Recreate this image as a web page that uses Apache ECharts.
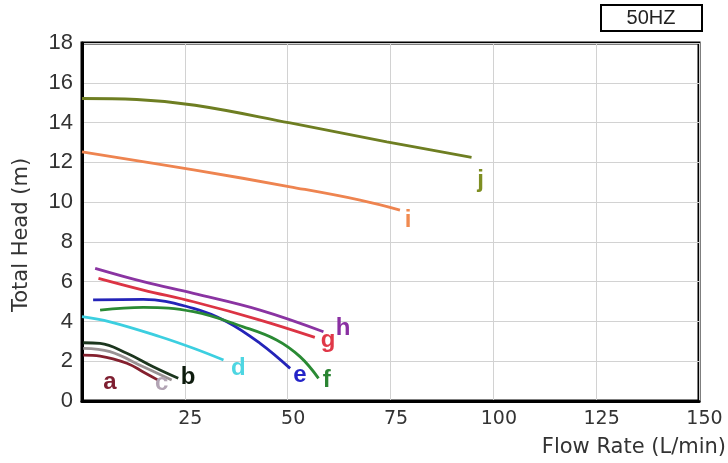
<!DOCTYPE html>
<html>
<head>
<meta charset="utf-8">
<script src="https://cdn.jsdelivr.net/npm/echarts@6/dist/echarts.min.js"></script>
<style>
html,body{margin:0;padding:0;background:#fff;}
#chart{width:728px;height:463px;}
</style>
</head>
<body>
<div id="chart"></div>
<script>
// ---- data ----
const curveNames = ['a','b','c','d','e','f','g','h','i','j'];
const flowA = [0.3, 4.4, 10.9, 15, 18.5];
const headA = [2.31, 2.26, 1.9, 1.45, 1.05];
const flowB = [0.3, 4.4, 10.9, 17.3, 23.4];
const headB = [2.93, 2.9, 2.4, 1.72, 1.14];
const flowC = [0.3, 6.8, 14.9, 21.8];
const headC = [2.65, 2.48, 1.72, 1.06];
const flowD = [0, 6.8, 19, 27.1, 34.4];
const headD = [4.24, 3.98, 3.23, 2.65, 2.06];
const flowE = [2.7, 14.9, 27.1, 35.2, 43.3, 50.6];
const headE = [5.08, 5.11, 4.66, 3.99, 2.9, 1.64];
const flowF = [4.4, 14.9, 27.1, 39.2, 47.3, 53, 57.5];
const headF = [4.57, 4.71, 4.49, 3.73, 3.07, 2.23, 1.14];
const flowG = [4.0, 14.9, 27.1, 43.3, 56.6];
const headG = [6.17, 5.58, 4.99, 4.07, 3.2];
const flowH = [3.2, 14.9, 27.1, 43.3, 58.7];
const headH = [6.67, 6.0, 5.41, 4.57, 3.48];
const flowI = [0, 27.5, 50.6, 67.6, 77.3];
const headI = [12.53, 11.61, 10.77, 10.1, 9.6];
const flowJ = [0, 13.3, 27.5, 50.6, 74.1, 94.7];
const headJ = [15.21, 15.16, 14.87, 13.98, 13.03, 12.25];
// label anchor points (flow, head)
const labelFlow = [6.8, 25.8, 19.4, 38, 53, 59.5, 59.8, 63.5, 79.3, 96.9];
const labelHead = [0.95, 1.2, 0.9, 1.65, 1.3, 1.05, 3.07, 3.67, 9.1, 11.1];
const xTicks = [0, 25, 50, 75, 100, 125, 150];
const yTicks = [0, 2, 4, 6, 8, 10, 12, 14, 16, 18];
const xTitle = 'Flow Rate (L/min)';
const yTitle = 'Total Head (m)';
const freqTag = '50HZ';

const lineColors = ['#84202e','#1c361e','#9a9294','#3ccfe0','#2424b8','#2a8a34','#dc3444','#8a34a2','#ee8450','#6e7e22'];
const labelColors = ['#7e1e30','#0e1c0e','#b2a4b4','#4ed6e2','#2424c8','#2a8432','#e03848','#8a30a2','#f08a50','#7e8e22'];

const flows = [flowA, flowB, flowC, flowD, flowE, flowF, flowG, flowH, flowI, flowJ];
const heads = [headA, headB, headC, headD, headE, headF, headG, headH, headI, headJ];

const series = [];
curveNames.forEach((n, k) => {
  series.push({
    name: n, type: 'line', smooth: 0.4, symbol: 'none',
    lineStyle: { color: lineColors[k], width: 2.8 },
    data: flows[k].map((f, i) => [f, heads[k][i]]),
    z: 3
  });
  series.push({
    type: 'scatter', symbolSize: 0, silent: true,
    itemStyle: { opacity: 1 },
    data: [[labelFlow[k], labelHead[k]]],
    label: { show: true, position: 'inside', formatter: n, opacity: 1,
      color: labelColors[k], fontSize: 24, fontWeight: 'bold',
      fontFamily: 'Liberation Sans, Arial, sans-serif' },
    z: 4
  });
});

const chart = echarts.init(document.getElementById('chart'), null, { renderer: 'canvas' });
chart.setOption({
  animation: false,
  backgroundColor: '#fff',
  grid: { left: 82, right: 29, top: 43, bottom: 62, show: true, borderColor: '#000', borderWidth: 3, backgroundColor: '#fff' },
  xAxis: {
    type: 'value', min: xTicks[0], max: xTicks[xTicks.length - 1], interval: 25,
    axisLine: { lineStyle: { color: '#000', width: 3 } },
    axisTick: { show: false },
    axisLabel: { showMinLabel: false, color: '#333', fontSize: 19, margin: 9, padding: [0, 0, 0, 11],
      fontFamily: 'DejaVu Sans, sans-serif' },
    splitLine: { lineStyle: { color: '#d2d2d2', width: 1 } }
  },
  yAxis: {
    type: 'value', min: yTicks[0], max: yTicks[yTicks.length - 1], interval: 2,
    axisLine: { lineStyle: { color: '#000', width: 3 } },
    axisTick: { show: false },
    axisLabel: { color: '#333', fontSize: 22, margin: 9, padding: [7, 0, 0, 0], fontFamily: 'Liberation Sans, Arial, sans-serif' },
    splitLine: { lineStyle: { color: '#d2d2d2', width: 1 } }
  },
  graphic: [
    { type: 'text', x: 726, y: 448,
      style: { text: xTitle, fill: '#333', align: 'right', verticalAlign: 'middle', font: '21px "DejaVu Sans", sans-serif' } },
    { type: 'text', x: 22, y: 235, rotation: Math.PI / 2,
      style: { text: yTitle, fill: '#333', align: 'center', verticalAlign: 'middle', font: '21px "DejaVu Sans", sans-serif' } },
    { type: 'rect', x: 601, y: 5, shape: { width: 101, height: 26 },
      style: { fill: '#fff', stroke: '#000', lineWidth: 2 } },
    { type: 'text', x: 651, y: 18,
      style: { text: freqTag, fill: '#222', align: 'center', verticalAlign: 'middle', font: '20px "Liberation Sans", Arial, sans-serif' } }
  ],
  series: series
});
</script>
</body>
</html>
